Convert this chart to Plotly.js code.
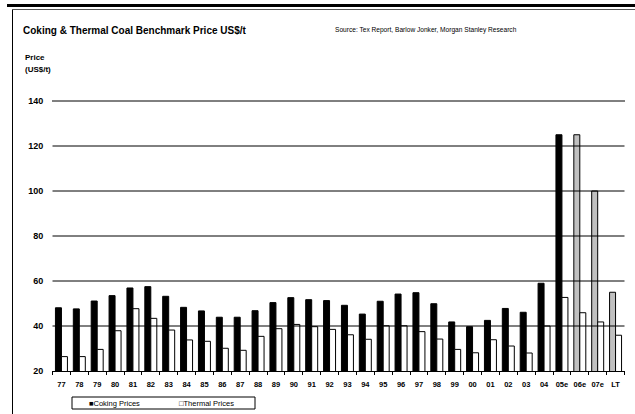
<!DOCTYPE html>
<html>
<head>
<meta charset="utf-8">
<script src="https://cdn.plot.ly/plotly-3.0.1.min.js"></script>
<style>
  html, body { margin: 0; padding: 0; background: #fff; }
  #chart { width: 635px; height: 414px; }
</style>
</head>
<body>
<div id="chart"></div>
<script>
// Benchmark prices, US$/t
const years = ['77','78','79','80','81','82','83','84','85','86','87','88','89','90','91',
               '92','93','94','95','96','97','98','99','00','01','02','03','04','05e','06e','07e','LT'];
const coking = [48.1,47.6,51.1,53.5,56.9,57.5,53.2,48.3,46.7,43.9,43.9,46.8,50.4,52.6,51.7,
                51.3,49.2,45.3,51.0,54.2,54.8,49.9,41.8,39.7,42.5,47.8,46.1,59.0,125,125,100,55];
const thermal = [26.4,26.4,29.6,37.9,47.7,43.4,38.2,33.8,33.2,30.1,29.2,35.4,38.8,40.7,39.7,
                 38.5,36.1,34.1,40.1,40.1,37.5,34.2,29.6,28.1,33.9,31.1,28.0,40.0,52.7,45.9,41.8,35.9];
// forecast years shown in grey for coking
const estimated = ['06e','07e','LT'];
const yTicks = [20,40,60,80,100,120,140];

const FONT = 'Liberation Sans, Arial, sans-serif';

// plot box in pixels, used to place notes in paper units
const W = 635, H = 414, L = 52, R = 10, T = 101, B = 43;
const pw = W - L - R, ph = H - T - B;
const px = x => (x - L) / pw;
const py = y => (H - B - y) / ph;

const cokingColors = years.map(y => estimated.includes(y) ? '#c0c0c0' : '#000000');

const traces = [
  {
    type: 'bar', name: 'Coking Prices', x: years, y: coking,
    marker: { color: cokingColors, line: { color: '#000', width: 1 } },
    showlegend: false, hoverinfo: 'x+y'
  },
  {
    type: 'bar', name: 'Thermal Prices', x: years, y: thermal,
    marker: { color: '#ffffff', line: { color: '#000', width: 1 } },
    showlegend: false, hoverinfo: 'x+y'
  }
];

// horizontal rules sit on top of the bars; the top one runs along the plot edge
const yMax = yTicks[yTicks.length - 1];
const shapes = yTicks.filter(v => v > yTicks[0]).map(v => v === yMax ? {
  type: 'line', xref: 'paper', yref: 'paper', x0: 0, x1: 1, y0: 1, y1: 1,
  line: { color: '#000', width: 1 }, layer: 'above'
} : {
  type: 'line', xref: 'x', yref: 'y', x0: -0.5, x1: years.length - 0.5, y0: v, y1: v,
  line: { color: '#000', width: 1 }, layer: 'above'
});

// page frame
shapes.push(
  { type: 'line', xref: 'paper', yref: 'paper', x0: px(7), x1: px(640), y0: py(5.5), y1: py(5.5),
    line: { color: '#000', width: 3 }, layer: 'above' },
  { type: 'line', xref: 'paper', yref: 'paper', x0: px(12.5), x1: px(640), y0: py(9.5), y1: py(9.5),
    line: { color: '#555', width: 1 }, layer: 'above' },
  { type: 'line', xref: 'paper', yref: 'paper', x0: px(12.5), x1: px(12.5), y0: py(9.5), y1: py(420),
    line: { color: '#000', width: 1 }, layer: 'above' },
  // legend box
  { type: 'rect', xref: 'paper', yref: 'paper', x0: px(72), x1: px(255), y0: py(409), y1: py(397),
    line: { color: '#000', width: 1 }, fillcolor: 'rgba(0,0,0,0)', layer: 'above' }
);

const annotations = [
  { text: 'Source: Tex Report, Barlow Jonker, Morgan Stanley Research',
    xref: 'paper', yref: 'paper', x: px(333), y: py(30), xanchor: 'left', yanchor: 'middle',
    showarrow: false, font: { family: FONT, size: 6.6, color: '#000' } },
  { text: '<b>Price</b>', xref: 'paper', yref: 'paper', x: px(22.5), y: py(57),
    xanchor: 'left', yanchor: 'middle', showarrow: false,
    font: { family: FONT, size: 8, color: '#000' } },
  { text: '<b>(US$/t)</b>', xref: 'paper', yref: 'paper', x: px(22.5), y: py(69),
    xanchor: 'left', yanchor: 'middle', showarrow: false,
    font: { family: FONT, size: 8, color: '#000' } },
  { text: '■Coking Prices', xref: 'paper', yref: 'paper', x: px(87), y: py(403.5),
    xanchor: 'left', yanchor: 'middle', showarrow: false,
    font: { family: FONT, size: 7.5, color: '#000' } },
  { text: '□Thermal Prices', xref: 'paper', yref: 'paper', x: px(177), y: py(403.5),
    xanchor: 'left', yanchor: 'middle', showarrow: false,
    font: { family: FONT, size: 7.5, color: '#000' } }
];

const layout = {
  width: W, height: H,
  margin: { l: L, r: R, t: T, b: B, pad: 0 },
  paper_bgcolor: '#fff', plot_bgcolor: '#fff',
  title: {
    text: '<b>Coking &amp; Thermal Coal Benchmark Price US$/t</b>',
    xref: 'container', yref: 'container', x: 23 / W, y: 1 - 30 / H,
    xanchor: 'left', yanchor: 'middle',
    font: { family: FONT, size: 10, color: '#000' }
  },
  barmode: 'group', bargap: 0.33, bargroupgap: 0,
  xaxis: {
    type: 'category', showgrid: false, showline: true, linecolor: '#000', linewidth: 1,
    ticks: 'outside', tickson: 'boundaries', ticklen: 3, tickcolor: '#000', tickwidth: 1,
    tickangle: 0, ticklabelstandoff: 6,
    tickfont: { family: FONT, size: 7.5, color: '#000', weight: 'bold' },
    fixedrange: true
  },
  yaxis: {
    range: [20, 140], tickvals: yTicks, ticktext: yTicks.map(String),
    showgrid: false, zeroline: false, showline: false,
    ticks: 'outside', ticklen: 6, tickcolor: 'rgba(0,0,0,0)',
    tickfont: { family: FONT, size: 9, color: '#000', weight: 'bold' },
    fixedrange: true
  },
  shapes: shapes,
  annotations: annotations,
  showlegend: false
};

Plotly.newPlot('chart', traces, layout, { displayModeBar: false, staticPlot: true });
</script>
</body>
</html>
